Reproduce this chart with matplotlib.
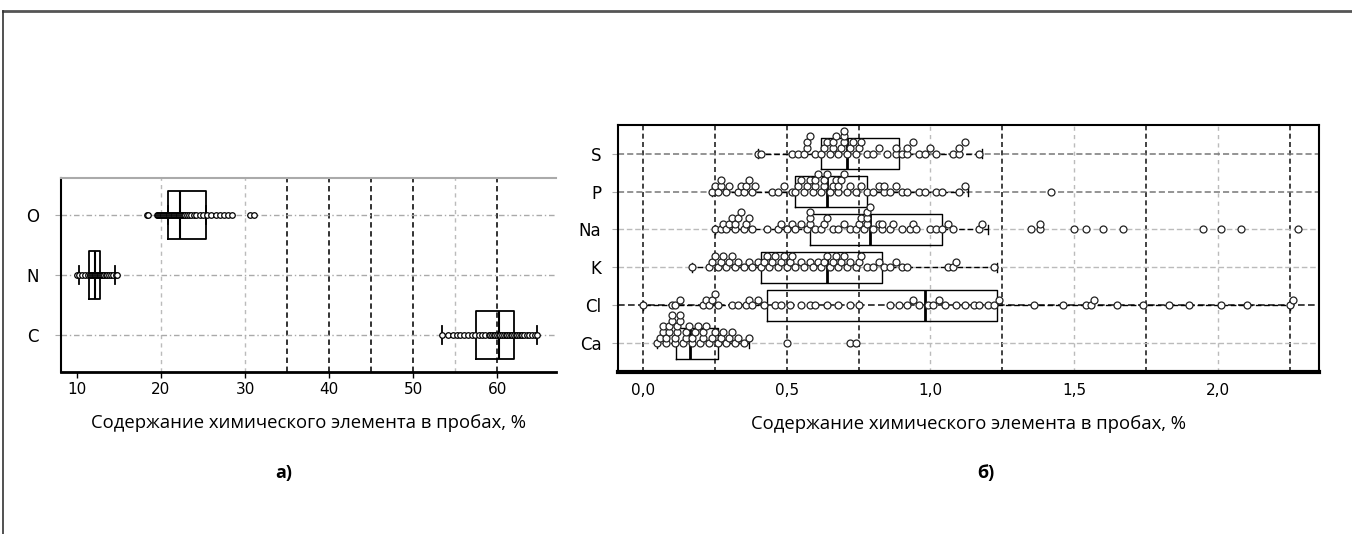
import matplotlib
matplotlib.use('Agg')
import matplotlib.pyplot as plt
from matplotlib.lines import Line2D

# --- данные, панель а) ---
left_names = ['C', 'N', 'O']
left_stats = {  # q1, median, q3, whisker low, whisker high
    'O': (20.8, 22.3, 25.3, 20.8, 25.3),
    'N': (11.4, 12.1, 12.7, 10.2, 14.5),
    'C': (57.5, 60.2, 62.0, 53.5, 64.8),
}
left_points = {
    'O': [18.3, 18.4, 19.5, 19.6, 19.7, 19.8, 19.9, 20.0, 20.1, 20.2, 20.3, 20.4, 20.5,
          20.6, 20.7, 20.8, 20.9, 21.0, 21.1, 21.2, 21.3, 21.4, 21.5, 21.6, 21.7, 21.8,
          21.9, 22.0, 22.1, 22.2, 22.3, 22.4, 22.5, 22.6, 22.7, 22.9, 23.1, 23.3, 23.6,
          23.9, 24.2, 24.6, 25.0, 25.5, 26.0, 26.5, 27.0, 27.5, 28.0, 28.5, 30.6, 31.1],
    'N': [10.0, 10.3, 10.6, 11.0, 11.3, 11.5, 11.6, 11.7, 11.8, 11.9, 12.0, 12.1, 12.2,
          12.3, 12.4, 12.5, 12.6, 12.7, 12.8, 12.9, 13.0, 13.1, 13.2, 13.4, 13.6, 13.8,
          14.0, 14.3, 14.6, 14.8],
    'C': [53.5, 54.2, 54.8, 55.2, 55.6, 56.0, 56.5, 57.0, 57.4, 57.8, 58.2, 58.6, 59.0,
          59.2, 59.4, 59.6, 59.8, 60.0, 60.2, 60.4, 60.6, 60.8, 61.0, 61.2, 61.4, 61.6,
          61.8, 62.0, 62.2, 62.4, 62.6, 62.8, 63.0, 63.2, 63.5, 63.8, 64.1, 64.5, 64.8],
}
left_ticks = [10, 20, 30, 40, 50, 60]

# --- данные, панель б) ---
right_names = ['Ca', 'Cl', 'K', 'Na', 'P', 'S']
right_stats = {
    'S':  (0.62, 0.71, 0.89, 0.40, 1.18),
    'P':  (0.53, 0.64, 0.78, 0.24, 1.13),
    'Na': (0.58, 0.79, 1.04, 0.25, 1.20),
    'K':  (0.41, 0.64, 0.83, 0.17, 1.23),
    'Cl': (0.43, 0.98, 1.23, 0.00, 2.25),
    'Ca': (0.115, 0.165, 0.26, 0.05, 0.37),
}
right_points = {
    'S': [0.40, 0.41, 0.52, 0.54, 0.56, 0.57, 0.57, 0.58, 0.60, 0.62, 0.63, 0.64, 0.65,
          0.66, 0.66, 0.67, 0.68, 0.69, 0.70, 0.70, 0.70, 0.71, 0.72, 0.73, 0.74, 0.75,
          0.76, 0.78, 0.80, 0.82, 0.85, 0.88, 0.88, 0.90, 0.92, 0.92, 0.94, 0.96, 0.98,
          1.00, 1.02, 1.08, 1.10, 1.10, 1.12, 1.17],
    'P': [0.24, 0.25, 0.26, 0.27, 0.27, 0.29, 0.30, 0.33, 0.34, 0.35, 0.36, 0.37, 0.38,
          0.39, 0.45, 0.47, 0.49, 0.52, 0.53, 0.54, 0.55, 0.56, 0.57, 0.58, 0.59, 0.60,
          0.60, 0.61, 0.62, 0.63, 0.63, 0.64, 0.65, 0.66, 0.67, 0.68, 0.68, 0.69, 0.70,
          0.71, 0.72, 0.74, 0.76, 0.78, 0.80, 0.82, 0.84, 0.84, 0.86, 0.88, 0.90, 0.92,
          0.96, 0.98, 1.02, 1.04, 1.10, 1.12, 1.42],
    'Na': [0.25, 0.27, 0.28, 0.29, 0.30, 0.31, 0.32, 0.32, 0.33, 0.34, 0.35, 0.36, 0.37,
           0.38, 0.43, 0.47, 0.48, 0.50, 0.52, 0.53, 0.55, 0.57, 0.58, 0.58, 0.58, 0.60,
           0.62, 0.63, 0.64, 0.66, 0.68, 0.70, 0.72, 0.74, 0.75, 0.76, 0.77, 0.78, 0.78,
           0.78, 0.79, 0.80, 0.82, 0.83, 0.83, 0.86, 0.87, 0.90, 0.93, 0.94, 0.95, 1.00,
           1.02, 1.04, 1.06, 1.08, 1.17, 1.18, 1.35, 1.38, 1.38, 1.50, 1.54, 1.60, 1.67,
           1.95, 2.01, 2.08, 2.28],
    'K': [0.17, 0.23, 0.24, 0.25, 0.26, 0.27, 0.28, 0.29, 0.30, 0.31, 0.32, 0.33, 0.35,
          0.37, 0.38, 0.40, 0.41, 0.42, 0.43, 0.44, 0.45, 0.46, 0.47, 0.48, 0.49, 0.50,
          0.51, 0.52, 0.53, 0.55, 0.56, 0.58, 0.59, 0.61, 0.62, 0.63, 0.64, 0.65, 0.66,
          0.67, 0.68, 0.69, 0.70, 0.71, 0.72, 0.74, 0.75, 0.76, 0.78, 0.80, 0.82, 0.84,
          0.86, 0.88, 0.90, 0.92, 1.06, 1.08, 1.09, 1.22],
    'Cl': [0.00, 0.10, 0.11, 0.13, 0.21, 0.22, 0.23, 0.24, 0.25, 0.26, 0.31, 0.33, 0.36,
           0.37, 0.38, 0.40, 0.42, 0.46, 0.48, 0.51, 0.55, 0.58, 0.60, 0.64, 0.68, 0.72,
           0.75, 0.86, 0.89, 0.92, 0.94, 0.96, 0.99, 1.01, 1.03, 1.05, 1.09, 1.12, 1.15,
           1.17, 1.20, 1.22, 1.24, 1.36, 1.46, 1.54, 1.56, 1.57, 1.65, 1.74, 1.83, 1.90,
           2.01, 2.10, 2.25, 2.26],
    'Ca': [0.05, 0.06, 0.07, 0.07, 0.08, 0.08, 0.09, 0.09, 0.10, 0.10, 0.11, 0.11, 0.12,
           0.12, 0.13, 0.13, 0.14, 0.15, 0.15, 0.16, 0.17, 0.17, 0.18, 0.19, 0.20, 0.21,
           0.21, 0.22, 0.23, 0.24, 0.25, 0.26, 0.27, 0.28, 0.29, 0.30, 0.31, 0.32, 0.33,
           0.35, 0.37, 0.50, 0.72, 0.74],
}
right_ticks = [0.0, 0.5, 1.0, 1.5, 2.0]
right_tick_labels = ['0,0', '0,5', '1,0', '1,5', '2,0']

xlabel = 'Содержание химического элемента в пробах, %'


def stack_levels(values, step):
    # одинаковые (близкие) значения складываем столбиком вверх
    counts = {}
    levels = []
    for v in values:
        k = round(v / step)
        n = counts.get(k, 0)
        levels.append(n)
        counts[k] = n + 1
    return levels


def make_bxp(names, stats):
    out = []
    for name in names:
        q1, med, q3, lo, hi = stats[name]
        out.append(dict(q1=q1, med=med, q3=q3, whislo=lo, whishi=hi, fliers=[], label=name))
    return out


fig = plt.figure(figsize=(13.52, 5.34), dpi=100)

# рамка страницы
fig.add_artist(Line2D([0.002, 1.0], [0.979, 0.979], transform=fig.transFigure, color='#555555', lw=2))
fig.add_artist(Line2D([0.002, 0.002], [0.0, 0.979], transform=fig.transFigure, color='#333333', lw=1.2))

# ---------- панель а) ----------
ax1 = fig.add_axes([0.0451, 0.3034, 0.3661, 0.3633])
pos1 = list(range(1, len(left_names) + 1))
for xv in [20, 30, 55]:
    ax1.axvline(xv, color='#bbbbbb', ls=(0, (3, 3)), lw=1, zorder=0)
for xv in [35, 40, 45, 50, 60]:
    ax1.axvline(xv, color='#222222', ls=(0, (3, 2)), lw=1.3, zorder=0)
for yv in pos1:
    ax1.axhline(yv, color='#aaaaaa', ls=(0, (4, 2, 1, 2)), lw=1, zorder=0)

ax1.bxp(make_bxp(left_names, left_stats), positions=pos1, vert=False, widths=0.8,
        showfliers=False, capwidths=0.3,
        boxprops=dict(color='black', lw=1.3),
        medianprops=dict(color='black', lw=1.5),
        whiskerprops=dict(color='black', lw=1.3),
        capprops=dict(color='black', lw=1.3))
for p, name in zip(pos1, left_names):
    vals = left_points[name]
    ax1.plot(vals, [p] * len(vals), 'o', ms=4, mfc='white', mec='black', mew=0.9, zorder=3)

ax1.set_xlim(8.1, 67)
ax1.set_ylim(0.38, 3.62)
ax1.set_xticks(left_ticks)
ax1.set_yticks(pos1)
ax1.set_yticklabels(left_names, fontsize=12)
ax1.tick_params(axis='x', labelsize=11, length=4, width=1)
ax1.tick_params(axis='y', length=4, color='#aaaaaa', pad=12)
ax1.spines['right'].set_visible(False)
ax1.spines['top'].set_color('#aaaaaa')
ax1.spines['top'].set_linewidth(1.5)
ax1.spines['left'].set_linewidth(1.5)
ax1.spines['bottom'].set_linewidth(2)
ax1.set_xlabel(xlabel, fontsize=13.3, family='Open Sans', labelpad=12)

# ---------- панель б) ----------
ax2 = fig.add_axes([0.4571, 0.3034, 0.5185, 0.4625])
pos2 = list(range(1, len(right_names) + 1))
for xv in [1.0, 1.5, 2.0]:
    ax2.axvline(xv, color='#bbbbbb', ls=(0, (3, 3)), lw=1, zorder=0)
for xv in [0.0, 0.25, 0.5, 0.75, 1.25, 1.75, 2.25]:
    ax2.axvline(xv, color='#222222', ls=(0, (3, 2)), lw=1.2, zorder=0)
for p, name in zip(pos2, right_names):
    if name == 'Cl':
        ax2.axhline(p, color='#222222', ls=(0, (4, 2)), lw=1.2, zorder=0)
    elif name in ('S', 'P'):
        ax2.axhline(p, color='#777777', ls=(0, (4, 2)), lw=1.1, zorder=0)
    else:
        ax2.axhline(p, color='#bbbbbb', ls=(0, (4, 2)), lw=1, zorder=0)

ax2.bxp(make_bxp(right_names, right_stats), positions=pos2, vert=False, widths=0.8,
        showfliers=False, capwidths=0.25,
        boxprops=dict(color='black', lw=1),
        medianprops=dict(color='black', lw=2),
        whiskerprops=dict(color='black', lw=1, ls=(0, (4, 2))),
        capprops=dict(color='black', lw=1))
for p, name in zip(pos2, right_names):
    vals = right_points[name]
    lev = stack_levels(vals, 0.03)
    ys = [p + 0.15 * l for l in lev]
    ax2.plot(vals, ys, 'o', ms=5, mfc='white', mec='#222222', mew=0.9, zorder=3)

ax2.set_xlim(-0.087, 2.352)
ax2.set_ylim(0.25, 6.75)
ax2.set_xticks(right_ticks)
ax2.set_xticklabels(right_tick_labels)
ax2.set_yticks(pos2)
ax2.set_yticklabels(right_names, fontsize=12)
ax2.tick_params(axis='x', labelsize=11, length=0, pad=8)
ax2.tick_params(axis='y', length=4, color='#aaaaaa', pad=8)
for s in ['top', 'left', 'right']:
    ax2.spines[s].set_linewidth(1.5)
ax2.spines['bottom'].set_linewidth(3)
ax2.set_xlabel(xlabel, fontsize=13.3, family='Open Sans', labelpad=12)

# подписи панелей
fig.text(0.2101, 0.114, 'а)', ha='center', va='center', fontsize=13, fontweight='bold', family='Open Sans')
fig.text(0.7293, 0.114, 'б)', ha='center', va='center', fontsize=13, fontweight='bold', family='Open Sans')

fig.savefig('out.png', dpi=100)
